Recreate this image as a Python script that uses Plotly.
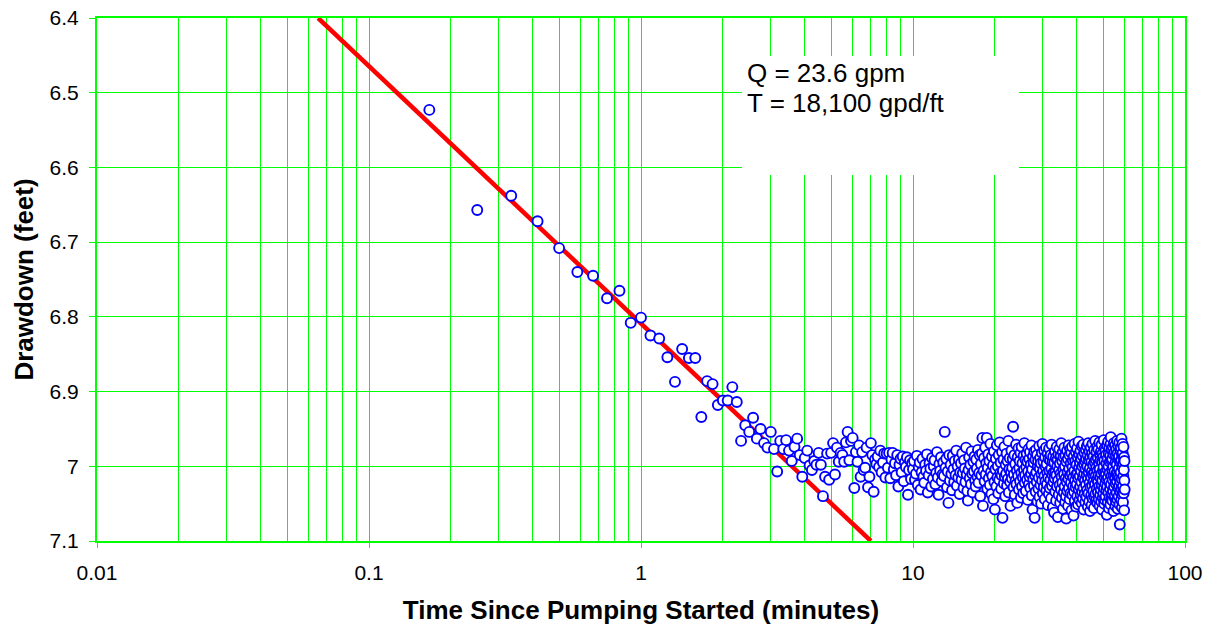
import plotly.graph_objects as go

# ---------------- data ----------------
first_step = 2            # first reading at 2 x 5 s = 10 s
step_minutes = 5 / 60     # readings every 5 seconds

drawdown = [
    # 0.167 - 1.917 min
    6.523, 6.657, 6.638, 6.672, 6.708, 6.740, 6.745, 6.775, 6.765, 6.808, 6.801,
    6.825, 6.829, 6.854, 6.887, 6.843, 6.855, 6.855, 6.934, 6.886, 6.890, 6.918,
    # 2 - 3.917 min
    6.912, 6.912, 6.894, 6.914, 6.966, 6.945, 6.954, 6.935, 6.963, 6.950, 6.969, 6.975,
    6.954, 6.977, 7.007, 6.966, 6.977, 6.965, 6.979, 6.993, 6.974, 6.963, 6.985, 7.014,
    # 4 - 9.917 min
    6.989, 6.979, 6.999, 7.005, 6.993, 6.998, 6.982, 6.998, 7.040, 7.014, 6.983, 7.018,
    6.982, 6.969, 7.011, 6.975, 6.994, 6.982, 6.985, 6.994, 6.968, 6.954, 6.992, 6.966,
    6.962, 7.029, 6.981, 6.994, 6.972, 7.014, 6.981, 7.005, 7.002, 6.975, 7.028, 7.014,
    6.969, 6.985, 7.034, 6.991, 6.997, 6.987, 7.001, 6.979, 7.008, 6.995, 6.983, 7.015,
    6.983, 7.002, 6.982, 7.016, 6.991, 6.982, 7.004, 6.996, 7.012, 6.985, 7.027, 6.998,
    6.990, 7.008, 6.987, 7.020, 6.995, 7.001, 6.988, 7.038, 7.005, 6.992, 7.017, 6.996,
    # 10 - 59.917 min
    7.004, 6.993, 7.018, 7.010, 6.986, 7.025, 7.001, 6.995, 7.031, 7.008, 6.990, 7.014,
    7.022, 6.998, 7.006, 6.984, 7.035, 7.012, 6.996, 7.003, 7.027, 6.989, 7.017, 7.000,
    6.992, 7.024, 7.009, 6.981, 7.015, 7.038, 6.997, 7.006, 6.988, 7.020, 7.011, 6.995,
    7.013, 6.954, 7.002, 6.990, 7.028, 7.007, 7.049, 6.985, 7.019, 6.998, 7.010, 7.032,
    6.986, 7.004, 7.021, 6.993, 7.012, 6.979, 7.026, 7.000, 7.015, 6.991, 7.037, 7.008,
    6.996, 7.018, 6.983, 7.009, 7.029, 6.992, 7.003, 7.021, 6.975, 7.011, 7.033, 7.046,
    7.005, 6.988, 7.016, 6.998, 7.024, 6.980, 7.010, 7.035, 6.994, 7.007, 6.987, 7.019,
    7.027, 6.991, 7.003, 7.014, 6.978, 7.022, 7.009, 6.985, 7.040, 6.997, 7.012, 6.983,
    6.962, 7.053, 7.006, 6.989, 7.020, 6.975, 7.011, 6.996, 6.962, 7.030, 7.002, 6.984,
    7.016, 6.993, 7.025, 6.970, 7.008, 7.037, 6.987, 7.013, 6.999, 7.044, 6.980, 7.021,
    7.058, 7.004, 6.990, 7.027, 6.972, 7.015, 7.000, 7.036, 6.985, 7.018, 6.968, 7.009,
    6.995, 7.030, 7.012, 6.981, 7.069, 7.006, 6.991, 7.023, 6.974, 7.014, 7.040, 6.998,
    7.010, 6.983, 7.026, 6.993, 7.017, 6.966, 7.035, 7.004, 6.989, 7.021, 7.053, 7.008,
    6.979, 7.016, 7.002, 6.990, 6.947, 7.028, 7.011, 6.985, 7.038, 6.997, 7.019, 6.971,
    7.024, 7.006, 7.049, 6.988, 7.013, 6.976, 7.031, 7.002, 6.993, 7.020, 6.982, 7.042,
    7.009, 6.974, 7.027, 6.996, 7.015, 7.036, 6.986, 7.005, 6.969, 7.022, 7.012, 6.991,
    7.033, 7.001, 6.983, 7.018, 6.994, 7.045, 7.007, 6.977, 7.024, 6.990, 7.014, 6.981,
    7.029, 6.998, 7.010, 6.972, 7.039, 7.004, 7.058, 6.987, 7.017, 6.995, 7.026, 6.980,
    7.069, 7.012, 6.991, 7.034, 6.978, 7.008, 7.021, 6.985, 7.047, 7.000, 6.993, 7.030,
    7.015, 6.973, 7.041, 7.003, 6.989, 7.025, 6.996, 7.050, 7.011, 6.982, 7.019, 6.970,
    7.036, 7.006, 6.994, 7.028, 6.979, 7.013, 7.044, 6.988, 7.020, 7.001, 6.975, 7.032,
    6.997, 7.024, 7.009, 6.983, 7.052, 7.015, 6.990, 7.037, 6.976, 7.006, 7.029, 6.992,
    7.018, 6.985, 7.043, 7.003, 6.971, 7.026, 7.011, 6.994, 7.055, 6.987, 7.021, 7.008,
    7.062, 6.995, 7.016, 6.980, 7.034, 7.007, 6.989, 7.046, 7.012, 6.974, 7.027, 7.000,
    6.991, 7.068, 7.019, 6.984, 7.038, 7.005, 6.977, 7.025, 6.996, 7.049, 7.010, 6.986,
    7.031, 6.969, 7.014, 7.042, 6.993, 7.022, 6.981, 7.057, 7.004, 6.988, 7.035, 7.011,
    6.975, 7.027, 7.000, 7.048, 6.986, 7.016, 7.040, 7.070, 6.994, 7.021, 6.979, 7.033,
    7.008, 6.990, 7.053, 7.017, 6.972, 7.029, 7.003, 6.985, 7.044, 7.012, 6.977, 7.036,
    6.996, 7.022, 6.982, 7.059, 7.010, 6.974, 7.038, 7.001, 6.992, 7.027, 7.015, 7.066,
    6.987, 7.034, 7.006, 6.970, 7.046, 7.019, 6.993, 7.028, 6.981, 7.054, 7.011, 6.998,
    7.024, 6.976, 7.040, 7.009, 6.988, 7.051, 7.016, 6.967, 7.031, 7.002, 6.984, 7.045,
    7.013, 6.995, 7.027, 6.979, 7.038, 7.006, 6.990, 7.021, 7.049, 6.973, 7.034, 7.000,
    6.986, 7.043, 7.015, 6.971, 7.029, 7.058, 6.997, 7.010, 6.982, 7.037, 7.019, 6.993,
    7.048, 7.004, 6.978, 7.025, 6.990, 7.041, 7.012, 6.973, 7.032, 7.000, 6.985, 7.054,
    7.017, 6.969, 7.036, 7.008, 6.992, 7.047, 6.980, 7.022, 7.003, 7.060, 6.988, 7.028,
    6.975, 7.014, 7.039, 6.994, 7.052, 7.007, 6.983, 7.026, 6.970, 7.043, 7.011, 6.998,
    7.033, 6.987, 7.020, 7.056, 6.978, 7.009, 7.041, 6.995, 7.024, 6.966, 7.037, 7.013,
    6.991, 7.046, 7.002, 6.981, 7.030, 7.018, 6.974, 7.049, 7.006, 6.989, 7.035, 7.021,
    6.977, 7.012, 7.044, 6.996, 7.027, 6.968, 7.053, 7.004, 6.985, 7.038, 7.015, 6.992,
    7.031, 6.980, 7.047, 7.010, 6.971, 7.025, 7.058, 6.994, 7.019, 6.983, 7.042, 7.006,
    6.988, 7.036, 7.001, 6.965, 7.029, 7.050, 6.992, 7.014, 6.976, 7.045, 7.008, 7.023,
    6.979, 7.040, 7.011, 6.985, 7.032, 6.996, 7.018, 7.065, 6.972, 7.027, 7.004, 6.990,
    7.048, 7.015, 6.967, 7.035, 7.000, 6.983, 7.056, 7.021, 6.975, 7.042, 7.009, 6.994,
    7.030, 6.986, 7.051, 6.970, 6.961, 7.024, 7.044, 6.992, 7.013, 6.978, 7.037, 7.005,
    6.990, 7.046, 7.018, 6.974, 7.033, 7.001, 6.984, 7.060, 7.012, 6.969, 7.027, 7.041,
    7.007, 6.981, 7.039, 7.016, 6.972, 7.053, 6.995, 7.023, 6.986, 7.047, 7.010, 6.977,
    7.035, 6.998, 7.020, 6.966, 7.044, 7.009, 6.983, 7.057, 7.014, 6.990, 7.029, 6.973,
    7.040, 7.003, 6.987, 7.026, 6.968, 7.051, 7.015, 7.078, 6.994, 7.034, 6.979, 7.021,
    7.008, 6.975, 7.045, 6.992, 7.030, 6.963, 7.017, 7.055, 6.985, 7.038, 7.001, 6.970,
    6.982, 7.027, 7.048, 6.996, 7.013, 6.974, 7.036, 7.005, 6.988, 7.059, 7.019, 6.993,
    # 60 min
    7.031,
]
time_min = [(first_step + i) * step_minutes for i in range(len(drawdown))]

# straight-line (Cooper-Jacob) fit drawn on the chart
fit_time = [0.065, 7.0]
fit_drawdown = [6.4, 7.1]

decades = [0.01, 0.1, 1, 10, 100]
decade_labels = ["0.01", "0.1", "1", "10", "100"]
grid_vals = [m * d for d in decades[:-1] for m in range(1, 10)] + [decades[-1]]
grid_text = [decade_labels[decades.index(v)] if v in decades else "" for v in grid_vals]

annotation_lines = ["Q = 23.6 gpm", "T = 18,100 gpd/ft"]

# ---------------- figure ----------------
GREEN = "#00FF00"
FONT = "Arial, Liberation Sans, sans-serif"

fig = go.Figure()
# empty trace that only makes the decade-tick companion axis render
fig.add_trace(go.Scatter(x=[], y=[], xaxis="x2", yaxis="y", mode="markers",
                         showlegend=False, hoverinfo="skip"))
fig.add_trace(go.Scatter(
    x=fit_time, y=fit_drawdown, mode="lines",
    line=dict(color="#FF0000", width=4.5), showlegend=False, hoverinfo="skip"))
fig.add_trace(go.Scatter(
    x=time_min, y=drawdown, mode="markers",
    marker=dict(symbol="circle", size=10, color="white",
                line=dict(color="#0000FF", width=1.9)),
    showlegend=False))

# white label box over the grid
fig.add_shape(type="rect", xref="paper", yref="paper",
              x0=0.5928, x1=0.8474, y0=0.6998, y1=0.9273,
              fillcolor="white", line=dict(width=0), layer="above")
for i, line in enumerate(annotation_lines):
    fig.add_annotation(xref="paper", yref="paper", x=0.5955,
                       y=0.8948 - 0.0574 * i,
                       xanchor="left", yanchor="middle", align="left",
                       text=line, showarrow=False,
                       font=dict(family=FONT, size=26, color="black"))

fig.update_layout(
    template="none",
    width=1206, height=627, autosize=False,
    margin=dict(l=97, r=21, t=18, b=86, pad=0),
    paper_bgcolor="white", plot_bgcolor="white",
    font=dict(family=FONT, color="black"),
    xaxis=dict(
        type="log", range=[-2, 2], automargin=False,
        tickmode="array", tickvals=grid_vals, ticktext=grid_text,
        tickfont=dict(size=21, family=FONT, color="black"),
        ticks="", ticklabelstandoff=12,
        showgrid=True, gridcolor=GREEN, gridwidth=1,
        showline=True, linecolor=GREEN, linewidth=2, mirror=True,
        zeroline=False,
        title=dict(text="<b>Time Since Pumping Started (minutes)</b>",
                   font=dict(size=26, family=FONT, color="black"), standoff=18),
    ),
    # companion axis only used to draw the small tick marks at each decade
    xaxis2=dict(
        type="log", range=[-2, 2], overlaying="x", side="bottom",
        automargin=False, tickmode="array", tickvals=decades,
        showticklabels=False, ticks="outside", ticklen=6,
        tickcolor=GREEN, tickwidth=1, showgrid=False, showline=False,
        zeroline=False,
    ),
    yaxis=dict(
        range=[7.1, 6.4], dtick=0.1, tick0=6.4, automargin=False,
        tickfont=dict(size=21, family=FONT, color="black"),
        ticks="outside", ticklen=6, tickcolor=GREEN, tickwidth=1,
        ticklabelstandoff=6,
        showgrid=True, gridcolor=GREEN, gridwidth=1,
        showline=True, linecolor=GREEN, linewidth=2, mirror=True,
        zeroline=False,
        title=dict(text="<b>Drawdown (feet)</b>",
                   font=dict(size=26, family=FONT, color="black"), standoff=8),
    ),
)

fig.write_html("out.html")
